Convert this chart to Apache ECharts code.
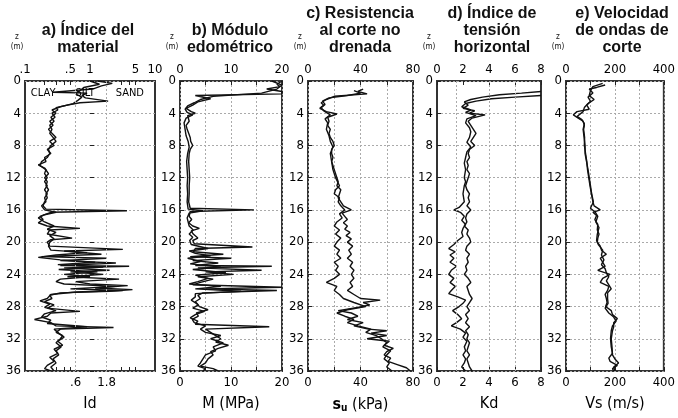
<!DOCTYPE html>
<html>
<head>
<meta charset="utf-8">
<script src="https://cdn.jsdelivr.net/npm/echarts@6/dist/echarts.min.js"></script>
<style>
  html, body { margin: 0; background: #fff; }
  #chart { width: 678px; height: 418px; }
</style>
</head>
<body>
<div id="chart"></div>
<script>
const depthA1 = [0,0.3,0.6,1.0,1.4,1.5,1.8,2.1,2.5,2.7,
  3.0,3.3,3.6,4.0,4.5,5.0,5.5,6.0,6.5,7.0,
  7.5,8.0,8.5,9.0,9.5,10.0,10.4,10.8,11.5,12.0,
  12.5,13.0,13.5,14.0,14.5,15.0,15.5,15.9,16.1,16.3,
  16.8,17.2,17.6,18.0,18.3,18.5,19.0,19.5,19.7,20.0,
  20.5,20.9,21.1,21.5,21.8,22.0,22.3,22.6,22.9,23.0,
  23.2,23.5,23.7,24.0,24.3,24.6,24.9,25.2,25.4,25.7,
  25.9,26.1,26.3,26.6,27.0,27.4,27.8,28.2,28.6,28.8,
  29.2,29.6,30.0,30.4,30.6,30.8,31.2,31.6,32.0,32.5,
  33.0,33.5,34.0,34.5,35.0,35.5,36.0];
const idA1 = [1.3,2.2,1.5,1.1,0.27,0.9,0.75,0.85,1.9,0.7,
  0.45,0.3,0.32,0.26,0.29,0.24,0.27,0.23,0.26,0.3,
  0.24,0.28,0.22,0.25,0.2,0.21,0.16,0.2,0.23,0.2,
  0.22,0.21,0.23,0.21,0.22,0.2,0.19,0.21,3.7,0.25,
  0.17,0.19,0.16,0.22,0.7,0.24,0.22,0.53,0.25,0.22,
  0.24,3.2,0.4,1.5,0.18,1.8,0.35,2.5,0.35,4.0,
  0.4,2.0,0.5,1.6,0.45,2.8,0.6,1.0,3.8,1.2,
  4.5,2.0,0.35,0.24,0.26,0.2,0.28,0.22,0.7,0.25,
  0.22,0.14,0.25,0.3,2.3,0.35,0.3,0.38,0.35,0.3,
  0.36,0.3,0.33,0.27,0.3,0.25,0.28];

const depthA2 = [0,0.4,0.8,1.2,1.6,2.0,2.4,2.8,3.2,3.6,
  4.0,4.5,5.0,5.5,6.0,6.5,7.0,7.5,8.0,8.5,
  9.0,9.5,10.0,10.5,11.0,11.5,12.0,12.5,13.0,13.5,
  14.0,14.5,15.0,15.5,16.0,16.3,16.6,17.0,17.5,18.0,
  18.4,18.8,19.2,19.6,20.0,20.5,21.0,21.3,21.6,21.9,
  22.2,22.5,22.8,23.1,23.4,23.7,24.0,24.3,24.6,24.9,
  25.2,25.5,25.8,26.0,26.2,26.5,27.0,27.3,27.7,28.1,
  28.5,28.9,29.3,29.7,30.1,30.5,30.8,31.3,31.8,32.3,
  32.8,33.3,33.8,34.3,34.8,35.3,35.7,36.0];
const idA2 = [1.0,1.4,0.8,0.7,0.6,0.75,0.65,0.55,0.35,0.26,
  0.3,0.25,0.28,0.24,0.26,0.24,0.27,0.3,0.25,0.23,
  0.24,0.22,0.18,0.17,0.21,0.2,0.22,0.2,0.22,0.2,
  0.22,0.2,0.21,0.18,0.2,0.3,0.2,0.16,0.2,0.28,
  0.22,0.3,0.24,0.28,0.24,0.23,0.25,0.9,0.3,0.16,
  0.35,1.2,0.32,1.6,0.33,1.3,0.4,1.0,0.35,0.3,
  0.4,2.5,0.5,3.2,0.6,0.25,0.22,0.17,0.24,0.2,
  0.3,0.2,0.18,0.25,0.22,0.9,0.28,0.33,0.4,0.32,
  0.38,0.28,0.32,0.24,0.28,0.22,0.2,0.25];

const depthB1 = [0.0,0.4,0.7,1.0,1.3,1.6,1.8,2.2,2.6,3.0,
  3.4,3.8,4.0,4.3,5.0,5.5,6.0,6.5,7.0,7.5,
  8.0,8.5,9.0,10.0,11.0,12.0,13.0,14.0,15.0,15.8,
  16.0,16.2,16.8,17.2,17.6,18.0,18.3,18.6,19.0,19.5,
  19.8,20.2,20.6,20.8,21.2,21.5,21.8,22.0,22.3,22.6,
  22.9,23.0,23.2,23.5,23.7,24.0,24.3,24.6,25.0,25.3,
  25.6,25.8,26.0,26.3,26.6,27.0,27.4,27.8,28.2,28.6,
  29.0,29.4,29.8,30.2,30.5,30.8,31.2,31.6,32.0,32.4,
  32.8,33.2,33.6,34.0,34.5,35.0,35.4,35.7,36.0];
const mB1 = [20,19,19.6,17,20,20,3,6,3.5,2.5,
  1.2,2.2,3.0,1.5,1.8,1.2,1.4,1.7,2.0,2.1,
  2.5,2.0,1.8,1.7,1.8,1.9,1.8,1.8,1.7,2.0,
  14.5,2.0,1.8,2.3,1.7,2.5,3.8,2.2,2.6,3.5,
  2.5,2.8,14.2,3.0,2.6,8.5,2.0,10.0,2.5,7.5,
  3.0,18.0,3.5,16.0,5.0,10.5,3.5,6.5,4.0,2.5,
  20,5,19,4.5,3.5,4.0,3.0,3.6,2.5,4.8,
  3.0,2.0,3.5,3.0,17.5,5.0,6.0,7.0,8.0,7.0,
  9.5,7.5,6.0,6.5,5.5,5.0,4.0,6.5,7.5];

const depthB2 = [0.0,0.5,1.0,1.5,1.9,2.3,2.7,3.1,3.5,3.9,
  4.2,4.6,5.2,6.0,6.8,7.5,8.2,9.0,10.0,11.0,
  12.0,13.0,14.0,15.0,15.9,16.1,16.4,17.0,17.5,18.0,
  18.5,19.0,19.4,19.8,20.3,20.8,21.1,21.4,21.7,22.0,
  22.4,22.7,23.1,23.4,23.8,24.1,24.5,24.9,25.2,25.5,
  25.8,26.1,26.4,26.8,27.2,27.6,28.0,28.4,28.8,29.2,
  29.6,30.0,30.4,30.8,31.2,31.6,32.0,32.5,33.0,33.5,
  34.0,34.5,35.0,35.4,35.7,36.0];
const mB2 = [18,20,19,16,6.5,4.0,2.8,1.5,1.0,1.4,
  2.5,1.2,0.8,1.0,1.2,1.6,1.8,1.5,1.3,1.4,
  1.5,1.4,1.5,1.4,1.6,4.5,1.8,1.4,1.6,1.8,
  2.6,1.8,2.5,1.9,2.2,5.5,1.8,3.0,6.0,1.5,
  4.0,2.0,8.0,2.5,9.0,3.0,5.5,3.5,1.8,8.0,
  3.0,12.0,3.0,3.0,2.2,3.2,3.8,5.5,3.2,3.6,
  2.4,2.8,5.0,4.0,5.0,8.0,6.0,8.5,6.5,7.0,
  5.0,4.5,4.0,3.5,5.0,4.5];

const depthC1 = [1.0,1.3,1.6,1.9,2.3,2.7,3.0,3.4,3.8,4.1,
  4.5,5.0,5.5,6.0,6.5,7.0,7.5,8.0,8.5,9.0,
  9.5,10.0,10.5,11.0,11.5,12.0,12.5,13.0,13.5,14.0,
  14.5,15.0,15.5,16.0,16.4,16.8,17.2,17.6,18.0,18.4,
  18.8,19.2,19.6,20.0,20.5,21.0,21.5,22.0,22.5,23.0,
  23.5,24.0,24.5,25.0,25.5,26.0,26.5,27.0,27.2,27.5,
  27.8,28.1,28.5,28.8,29.2,29.6,30.0,30.4,30.8,31.0,
  31.3,31.6,32.0,32.3,32.8,33.2,33.6,34.0,34.4,34.8,
  35.2,35.6,36.0];
const suC1 = [42,38,45,20,14,10,12,9,14,22,
  15,16,15,17,16,17,19,20,18,18,
  19,18,19,20,21,22,23,22,25,24,
  23,25,27,33,26,28,30,27,30,28,
  32,29,33,30,34,31,33,30,34,32,
  35,33,35,32,34,30,35,40,55,42,
  47,38,23,33,38,30,42,35,46,60,
  48,60,45,62,58,65,60,58,63,61,
  68,75,78];

const depthC2 = [1.2,1.5,1.8,2.1,2.5,2.9,3.3,3.7,4.2,4.7,
  5.2,6.0,6.8,7.5,8.2,9.0,10.0,11.0,12.0,13.0,
  13.5,14.0,14.5,15.0,15.5,16.0,16.5,17.0,17.5,18.0,
  18.5,19.0,19.5,20.0,20.5,21.0,21.5,22.0,22.5,23.0,
  23.5,24.0,24.5,25.0,25.5,26.0,26.5,27.0,27.5,28.0,
  28.4,28.8,29.2,29.6,30.0,30.4,30.8,31.2,31.6,32.0,
  32.5,33.0,33.5,34.0,34.5,35.0,35.5,36.0];
const suC2 = [35,40,30,16,11,13,10,12,17,13,
  15,14,16,17,19,17,18,19,21,24,
  21,20,24,23,25,28,24,26,22,20,
  24,21,25,22,20,24,22,25,20,23,
  21,24,20,14,22,20,24,27,35,44,
  30,22,28,35,30,38,48,44,52,56,
  60,57,63,60,58,62,60,64];

const depthD1 = [1.3,1.5,1.7,2.0,2.3,2.6,3.0,3.4,3.7,4.0,
  4.2,4.6,5.0,5.5,6.0,6.5,7.0,7.5,8.0,8.5,
  9.0,9.5,10.0,10.5,11.0,11.5,12.0,12.5,13.0,13.5,
  14.0,14.5,15.0,15.5,16.0,16.5,17.0,17.5,18.0,18.5,
  19.0,19.5,20.0,20.5,21.0,21.5,22.0,22.5,23.0,23.5,
  24.0,24.5,25.0,25.5,26.0,26.5,27.0,27.5,28.0,28.5,
  29.0,29.5,30.0,30.5,31.0,31.5,32.0,32.5,33.0,33.5,
  34.0,34.5,35.0,35.5,36.0];
const kdD1 = [8,6.5,4.8,3.5,2.6,2.1,2.4,2.0,2.9,2.5,
  3.7,2.7,2.4,2.6,2.8,3.0,2.8,2.6,2.9,2.5,
  2.4,2.5,2.3,2.4,2.3,2.5,2.4,2.3,2.2,2.3,
  2.5,2.4,2.5,2.3,2.6,2.3,2.2,2.3,2.1,2.4,
  2.3,2.5,2.6,2.3,2.2,2.5,2.3,2.4,2.2,2.3,
  2.1,2.4,2.6,2.3,2.4,2.5,2.7,2.5,2.3,2.5,
  2.2,2.4,2.2,2.5,2.2,2.4,2.3,2.5,2.4,2.3,
  2.5,2.3,2.4,2.5,2.7];

const depthD2 = [1.8,2.0,2.2,2.5,2.8,3.2,3.6,3.9,4.3,4.7,
  5.2,5.8,6.3,7.0,7.6,8.2,8.8,9.5,10.2,11.0,
  12.0,12.5,13.0,14.0,15.0,15.7,16.0,16.3,16.8,17.3,
  17.8,18.3,18.8,19.3,19.8,20.3,20.8,21.2,21.6,22.0,
  22.5,23.0,23.5,24.0,24.5,25.0,25.5,26.0,26.4,26.8,
  27.2,27.6,28.0,28.5,29.0,29.5,30.0,30.4,30.8,31.3,
  31.8,32.3,33.0,33.5,34.0,34.5,35.0,35.5,36.0];
const kdD2 = [8,6.0,4.2,3.0,2.2,1.9,2.6,2.2,3.0,2.3,
  2.2,2.5,2.6,2.5,2.3,2.6,2.3,2.2,2.1,2.2,
  2.1,2.2,2.1,2.0,2.1,1.7,1.3,1.8,2.1,1.9,
  2.2,2.0,1.9,2.0,1.6,1.3,0.9,1.4,1.0,1.3,
  1.0,1.5,1.1,0.9,1.3,1.0,1.4,1.1,0.9,1.6,
  2.2,2.0,1.7,1.2,1.6,1.9,1.5,1.1,1.8,2.2,
  2.0,2.3,2.1,2.2,2.0,2.2,2.1,1.9,2.2];

const depthE1 = [0.5,0.8,1.0,1.5,2.0,2.5,3.0,3.5,3.8,4.2,
  4.6,5.0,5.5,6.0,7.0,8.0,9.0,10.0,11.0,12.0,
  13.0,14.0,15.0,15.5,16.0,16.3,16.7,17.2,17.8,18.5,
  19.0,19.5,20.0,20.5,21.0,21.5,22.0,22.5,23.0,23.5,
  24.0,24.5,25.0,25.5,26.0,26.5,27.0,27.5,28.0,28.5,
  29.0,29.5,30.0,30.5,31.0,32.0,33.0,34.0,34.5,35.0,
  35.5,36.0];
const vsE1 = [160,125,95,110,90,100,85,95,45,30,
  50,70,75,72,76,75,80,85,88,93,
  98,104,110,115,140,110,125,118,130,128,
  135,130,128,140,145,165,140,150,160,130,
  180,150,140,175,170,160,165,168,162,185,
  190,210,195,195,190,185,188,190,200,215,
  195,200];

const depthE2 = [0.3,0.7,1.2,1.8,2.3,2.8,3.3,3.8,4.4,4.8,
  5.3,6.0,7.0,8.0,9.0,10.0,11.0,12.0,13.0,14.0,
  15.0,15.8,16.3,16.8,17.5,18.2,19.0,19.8,20.3,21.0,
  21.6,22.2,22.8,23.3,23.8,24.3,24.8,25.3,25.8,26.3,
  27.0,27.6,28.2,28.8,29.3,29.8,30.4,31.0,32.0,33.0,
  33.8,34.4,34.8,35.3,35.7,36.0];
const vsE2 = [150,110,100,95,115,90,75,70,45,65,
  75,70,74,78,78,84,90,95,100,105,
  112,100,120,130,122,135,128,125,132,150,
  145,155,145,160,165,175,165,175,185,170,
  170,172,160,175,195,205,190,185,182,185,
  190,175,180,210,190,195];

// etiquetas de ejes
const idTopTicks = [0.1, 0.5, 1, 5, 10];
const idTopLabels = ['.1', '.5', '1', '5', '10'];
const idTopMinor = [0.2, 0.3, 0.4, 0.5, 3, 4, 5];
const idBottomTicks = [0.6, 1.8];
const idBottomLabels = ['.6', '1.8'];
const idBottomMinor = [0.3, 0.4, 0.5, 3, 4, 5];
const idLimits = [0.6, 1.8];       // limites arcilla / limo / arena
const kdGrid = [1.5, 4, 6];
const soilLabels = ['CLAY', 'SILT', 'SAND'];
const soilLabelId = [0.19, 0.84, 4.1];
const soilLabelDepth = 1.5;

const titles = ['a) Índice del\nmaterial', 'b) Módulo\nedométrico', 'c) Resistencia\nal corte no\ndrenada',
  'd) Índice de\ntensión\nhorizontal', 'e) Velocidad\nde ondas de\ncorte'];

const FONT = "'Liberation Sans Narrow', 'DejaVu Sans Condensed', 'Liberation Sans', sans-serif";
const TOP = 81, HEIGHT = 290;
const panels = [
  { left: 25, width: 130, titleX: 88 },
  { left: 180, width: 102, titleX: 230 },
  { left: 308, width: 105, titleX: 360 },
  { left: 437, width: 104, titleX: 492 },
  { left: 566, width: 100, titleX: 622 }
];

const pairs = (vals, depths) => vals.map((v, i) => [v, depths[i]]);
const labelStyle = { color: '#000', fontSize: 13, fontFamily: FONT };
const dotted = { type: [2, 2], color: '#aaa', width: 1 };
const tickStyle = { inside: true, length: 4, lineStyle: { color: '#222', width: 1 } };
const nameStyle = { color: '#000', fontSize: 16, fontFamily: FONT };

function pick(ticks, labels) {
  return v => {
    for (let i = 0; i < ticks.length; i++) {
      if (Math.abs(Math.log10(ticks[i]) - v) < 1e-6) return labels[i];
    }
    return '';
  };
}

function linAxes(gi, max, interval, step, name, extra) {
  const base = {
    gridIndex: gi, type: 'value', min: 0, max: max, interval: interval,
    axisLine: { show: false }, axisTick: tickStyle,
    axisLabel: Object.assign({ margin: 5, formatter: v => (v % step === 0 ? String(v) : '') }, labelStyle)
  };
  return [
    Object.assign({}, base, { position: 'top', splitLine: { show: gi !== 3, lineStyle: dotted } }),
    Object.assign({}, base, {
      position: 'bottom', splitLine: { show: false },
      name: name, nameLocation: 'middle', nameGap: 25, nameTextStyle: Object.assign({}, nameStyle, extra || {})
    })
  ];
}

const xAxes = [
  { gridIndex: 0, type: 'log', logBase: 10, min: 0.1, max: 10, position: 'top', show: false },
  {
    gridIndex: 0, type: 'value', min: -1, max: 1, position: 'top',
    axisLine: { show: false }, splitLine: { show: false },
    axisTick: Object.assign({ customValues: idTopMinor.map(Math.log10) }, tickStyle),
    axisLabel: Object.assign({ margin: 5, customValues: idTopTicks.map(Math.log10), formatter: pick(idTopTicks, idTopLabels) }, labelStyle)
  },
  {
    gridIndex: 0, type: 'value', min: -1, max: 1, position: 'bottom',
    axisLine: { show: false }, splitLine: { show: false },
    axisTick: Object.assign({ customValues: idBottomMinor.map(Math.log10) }, tickStyle),
    axisLabel: Object.assign({ margin: 5, customValues: idBottomTicks.map(Math.log10), formatter: pick(idBottomTicks, idBottomLabels) }, labelStyle),
    name: 'Id', nameLocation: 'middle', nameGap: 25, nameTextStyle: nameStyle
  }
].concat(
  linAxes(1, 20, 5, 10, 'M (MPa)'),
  linAxes(2, 80, 20, 40, '{s|s}{u|u} (kPa)', {
    rich: {
      s: { fontSize: 16, fontWeight: 'bold', fontFamily: FONT, color: '#000' },
      u: { fontSize: 10, fontWeight: 'bold', fontFamily: FONT, color: '#000', padding: [7, 0, 0, 0] }
    }
  }),
  linAxes(3, 8, 2, 2, 'Kd'),
  linAxes(4, 400, 100, 200, 'Vs (m/s)')
);

const yAxes = panels.map((p, i) => ({
  gridIndex: i, type: 'value', inverse: true, min: 0, max: 36, interval: 4,
  axisLine: { show: false }, axisTick: tickStyle,
  axisLabel: Object.assign({ margin: 4 }, labelStyle),
  splitLine: { show: true, lineStyle: dotted }
}));

function line(xi, yi, data, extra) {
  return Object.assign({
    type: 'line', xAxisIndex: xi, yAxisIndex: yi, data: data,
    symbol: 'none', silent: true, animation: false,
    lineStyle: { color: '#111', width: 1.4 }
  }, extra || {});
}

function gridLines(vals) {
  return {
    silent: true, symbol: 'none', label: { show: false },
    lineStyle: dotted,
    data: vals.map(v => ({ xAxis: v }))
  };
}

const series = [
  line(0, 0, pairs(idA1, depthA1), {
    markLine: gridLines(idLimits),
    markPoint: {
      symbol: 'circle', symbolSize: 1, silent: true,
      itemStyle: { color: 'rgba(0,0,0,0)' },
      label: { show: true, position: 'inside', formatter: '{b}', color: '#000', fontSize: 11, fontFamily: FONT },
      data: soilLabels.map((t, i) => ({ name: t, coord: [soilLabelId[i], soilLabelDepth] }))
    }
  }),
  line(0, 0, pairs(idA2, depthA2)),
  line(3, 1, pairs(mB1, depthB1)),
  line(3, 1, pairs(mB2, depthB2)),
  line(5, 2, pairs(suC1, depthC1)),
  line(5, 2, pairs(suC2, depthC2)),
  line(7, 3, pairs(kdD1, depthD1), { markLine: gridLines(kdGrid) }),
  line(7, 3, pairs(kdD2, depthD2)),
  line(9, 4, pairs(vsE1, depthE1)),
  line(9, 4, pairs(vsE2, depthE2))
];

const titleItems = [];
panels.forEach((p, i) => {
  const lines = titles[i].split('\n').length;
  titleItems.push({
    text: titles[i], left: p.titleX, top: lines === 3 ? 5 : 22, padding: 0, textAlign: 'center',
    textStyle: { fontSize: 16, fontWeight: 'bold', fontFamily: "'Liberation Sans', Arial, sans-serif", color: '#111', lineHeight: 17 }
  });
  titleItems.push({
    text: 'z\n(m)', left: p.left - 8, top: 32, padding: 0, textAlign: 'center',
    textStyle: { fontSize: 8, fontWeight: 'normal', fontFamily: FONT, color: '#111', lineHeight: 10 }
  });
});

const chart = echarts.init(document.getElementById('chart'), null, { renderer: 'canvas' });
chart.setOption({
  backgroundColor: '#fff',
  animation: false,
  title: titleItems,
  grid: panels.map(p => ({
    left: p.left, top: TOP, width: p.width, height: HEIGHT,
    show: true, borderColor: '#333', borderWidth: 2, backgroundColor: 'transparent'
  })),
  xAxis: xAxes,
  yAxis: yAxes,
  series: series
});
</script>
</body>
</html>
